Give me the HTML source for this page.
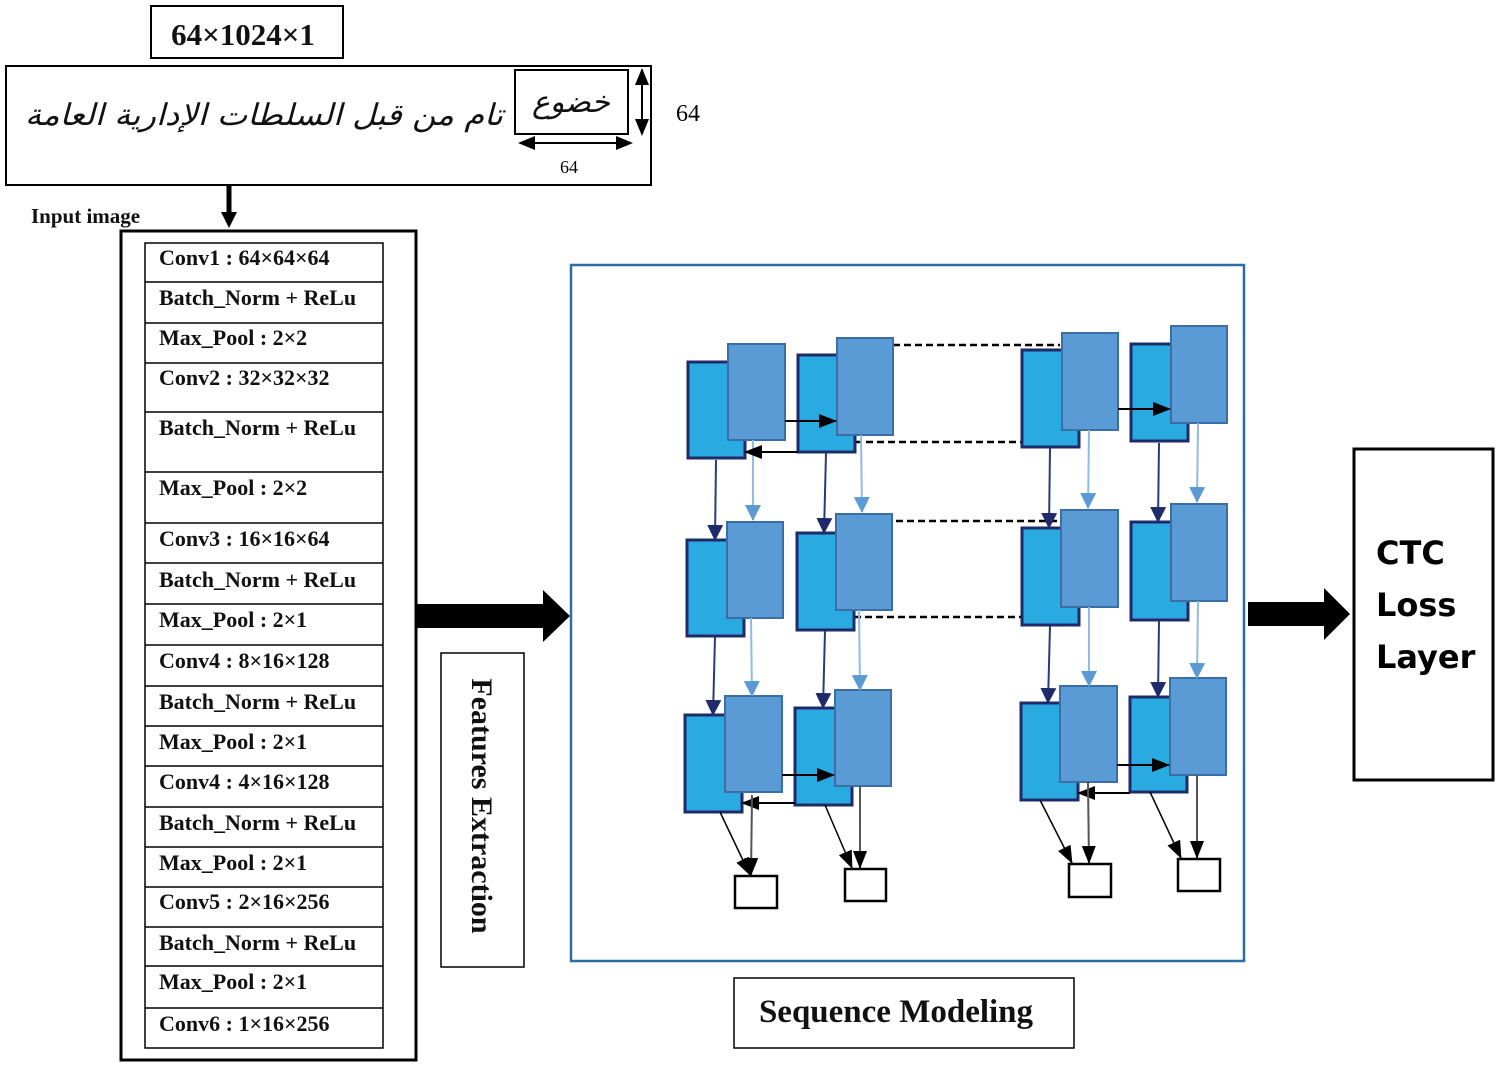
<!DOCTYPE html>
<html><head><meta charset="utf-8"><style>
body{margin:0;background:#fff;width:1500px;height:1067px;overflow:hidden}
svg{display:block}
.t{font-family:"Liberation Serif",serif;font-weight:bold;font-size:22px;fill:#111}
</style></head><body>
<svg width="1500" height="1067" viewBox="0 0 1500 1067" xmlns="http://www.w3.org/2000/svg">
<defs>
<marker id="mkb" markerWidth="18" markerHeight="14" refX="17" refY="7" orient="auto" markerUnits="userSpaceOnUse"><path d="M0,0 L18,7 L0,14 z" fill="#000"/></marker>
<marker id="md" markerWidth="16" markerHeight="16" refX="15" refY="8" orient="auto" markerUnits="userSpaceOnUse"><path d="M0,0 L16,8 L0,16 z" fill="#1F2A6B"/></marker>
<marker id="ml" markerWidth="16" markerHeight="16" refX="15" refY="8" orient="auto" markerUnits="userSpaceOnUse"><path d="M0,0 L16,8 L0,16 z" fill="#5B9BD5"/></marker>
</defs>
<!-- top -->
<rect x="151" y="6" width="192" height="52" fill="#fff" stroke="#000" stroke-width="2"/>
<text x="243" y="45" text-anchor="middle" class="t" style="font-size:31px">64×1024×1</text>
<rect x="6" y="66" width="645" height="119" fill="#fff" stroke="#000" stroke-width="2"/>
<text x="503" y="125" text-anchor="end" textLength="478" lengthAdjust="spacingAndGlyphs" style="font-family:'DejaVu Sans',sans-serif;font-size:30px;font-style:italic" fill="#111">تام من قبل السلطات الإدارية العامة</text>
<rect x="515" y="70" width="113" height="64" fill="#fff" stroke="#000" stroke-width="2"/>
<text x="571" y="112" text-anchor="middle" style="font-family:'DejaVu Sans',sans-serif;font-size:30px;font-style:italic" fill="#111">خضوع</text>
<line x1="642" y1="80" x2="642" y2="124" stroke="#000" stroke-width="2"/>
<path d="M642,68 L635,85 L649,85z M642,136 L635,119 L649,119z" fill="#000"/>
<line x1="530" y1="143" x2="620" y2="143" stroke="#000" stroke-width="2"/>
<path d="M518,143 L535,136 L535,150z M633,143 L616,136 L616,150z" fill="#000"/>
<text x="569" y="173" text-anchor="middle" style="font-family:'Liberation Serif',serif;font-size:18px">64</text>
<text x="688" y="121" text-anchor="middle" style="font-family:'Liberation Serif',serif;font-size:24px">64</text>
<line x1="229" y1="186" x2="229" y2="216" stroke="#000" stroke-width="5"/>
<path d="M221,212 L237,212 L229,228z" fill="#000"/>
<text x="31" y="223" class="t" style="font-size:21px">Input image</text>
<!-- CNN -->
<rect x="121" y="231" width="295" height="829" fill="#fff" stroke="#000" stroke-width="3"/>
<g stroke="#000" stroke-width="1.5" fill="none">
<rect x="145" y="243" width="238" height="805"/>
<path d="M145,282H383M145,323H383M145,363H383M145,412H383M145,472H383M145,523H383M145,563H383M145,604H383M145,645H383M145,686H383M145,726H383M145,766H383M145,807H383M145,847H383M145,887H383M145,927H383M145,966H383M145,1008H383"/>
</g>
<g class="t">
<text x="159" y="265">Conv1 : 64×64×64</text>
<text x="159" y="305">Batch_Norm + ReLu</text>
<text x="159" y="345">Max_Pool : 2×2</text>
<text x="159" y="385">Conv2 : 32×32×32</text>
<text x="159" y="435">Batch_Norm + ReLu</text>
<text x="159" y="495">Max_Pool : 2×2</text>
<text x="159" y="546">Conv3 : 16×16×64</text>
<text x="159" y="587">Batch_Norm + ReLu</text>
<text x="159" y="627">Max_Pool : 2×1</text>
<text x="159" y="668">Conv4 : 8×16×128</text>
<text x="159" y="709">Batch_Norm + ReLu</text>
<text x="159" y="749">Max_Pool : 2×1</text>
<text x="159" y="789">Conv4 : 4×16×128</text>
<text x="159" y="830">Batch_Norm + ReLu</text>
<text x="159" y="870">Max_Pool : 2×1</text>
<text x="159" y="909">Conv5 : 2×16×256</text>
<text x="159" y="950">Batch_Norm + ReLu</text>
<text x="159" y="989">Max_Pool : 2×1</text>
<text x="159" y="1031">Conv6 : 1×16×256</text>
</g>
<!-- big arrows -->
<rect x="417" y="604" width="128" height="24" fill="#000"/>
<path d="M543,590 L570,616 L543,642z" fill="#000"/>
<rect x="1248" y="602" width="78" height="24" fill="#000"/>
<path d="M1324,588 L1350,614 L1324,640z" fill="#000"/>
<rect x="441" y="653" width="83" height="314" fill="#fff" stroke="#000" stroke-width="1.5"/>
<text transform="translate(472,806) rotate(90)" text-anchor="middle" class="t" style="font-size:30px">Features Extraction</text>
<rect x="1354" y="449" width="139" height="331" fill="#fff" stroke="#000" stroke-width="3"/>
<g style="font-family:'DejaVu Sans',sans-serif;font-weight:bold;font-size:32px" fill="#000">
<text x="1376" y="564">CTC</text><text x="1376" y="616">Loss</text><text x="1376" y="668">Layer</text></g>
<rect x="734" y="978" width="340" height="70" fill="#fff" stroke="#000" stroke-width="1.5"/>
<text x="896" y="1022" text-anchor="middle" class="t" style="font-size:33px">Sequence Modeling</text>
<!-- seq box -->
<rect x="571" y="265" width="673" height="696" fill="#fff" stroke="#2E6DA4" stroke-width="2.5"/>
<!-- dashed -->
<g stroke="#000" stroke-width="2.5" stroke-dasharray="7,4">
<path d="M893,345H1060M855,442H1022M896,521H1060M854,617H1022"/>
</g>
<!-- cells -->
<g stroke="#1F2A6B" stroke-width="3" fill="#29ABE2">
<rect x="688" y="362" width="57" height="96"/><rect x="798" y="355" width="57" height="97"/><rect x="1022" y="350" width="57" height="97"/><rect x="1131" y="344" width="57" height="97"/>
<rect x="687" y="540" width="57" height="96"/><rect x="797" y="533" width="57" height="97"/><rect x="1022" y="528" width="57" height="97"/><rect x="1131" y="522" width="57" height="98"/>
<rect x="685" y="715" width="57" height="97"/><rect x="795" y="708" width="57" height="97"/><rect x="1021" y="703" width="57" height="97"/><rect x="1130" y="697" width="57" height="95"/>
</g>
<g stroke="#3A6EA5" stroke-width="2" fill="#5B9BD5">
<rect x="728" y="344" width="57" height="96"/><rect x="837" y="338" width="56" height="97"/><rect x="1062" y="333" width="56" height="97"/><rect x="1171" y="326" width="56" height="97"/>
<rect x="727" y="522" width="56" height="96"/><rect x="836" y="514" width="56" height="96"/><rect x="1061" y="510" width="57" height="97"/><rect x="1171" y="504" width="56" height="97"/>
<rect x="725" y="696" width="57" height="96"/><rect x="835" y="690" width="56" height="96"/><rect x="1060" y="686" width="57" height="96"/><rect x="1170" y="678" width="56" height="97"/>
</g>
<!-- vertical arrows -->
<g stroke="#2A3A7A" stroke-width="2" fill="none" marker-end="url(#md)">
<path d="M716,460L715,540"/><path d="M826,453L824,533"/><path d="M1050,448L1049,528"/><path d="M1159,443L1158,522"/>
<path d="M715,637L713,715"/><path d="M825,631L823,708"/><path d="M1050,626L1048,703"/><path d="M1159,621L1158,697"/>
</g>
<g stroke="#8FBCE6" stroke-width="2" fill="none" marker-end="url(#ml)">
<path d="M753,440L753,520"/><path d="M861,435L862,512"/><path d="M1089,430L1088,508"/><path d="M1198,423L1197,502"/>
<path d="M751,618L752,696"/><path d="M859,610L860,690"/><path d="M1089,607L1089,686"/><path d="M1198,601L1197,678"/>
</g>
<!-- horizontal arrows -->
<g stroke="#000" stroke-width="2" fill="none" marker-end="url(#mkb)">
<path d="M785,421H836"/><path d="M798,452H745"/><path d="M1118,409H1170"/><path d="M782,775H834"/><path d="M795,803H742"/><path d="M1117,765H1169"/><path d="M1130,793H1078"/>
</g>
<!-- outputs -->
<g stroke="#555" stroke-width="2" fill="none" marker-end="url(#mkb)">
<path d="M752,795L751,875"/><path d="M860,786L860,868"/><path d="M1088,782L1089,863"/><path d="M1197,775L1197,858"/>
</g>
<g stroke="#000" stroke-width="1.5" fill="none" marker-end="url(#mkb)">
<path d="M720,812L750,875"/><path d="M825,805L852,868"/><path d="M1040,800L1072,863"/><path d="M1150,792L1181,858"/>
</g>
<g stroke="#000" stroke-width="2.5" fill="#fff">
<rect x="735" y="876" width="42" height="32"/><rect x="845" y="869" width="41" height="32"/><rect x="1069" y="864" width="42" height="33"/><rect x="1178" y="859" width="42" height="32"/>
</g>
</svg>
</body></html>
